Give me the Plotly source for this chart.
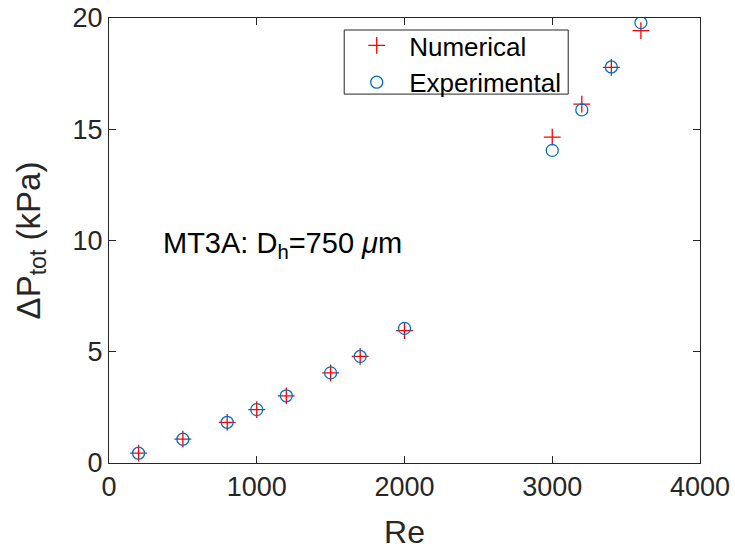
import plotly.graph_objects as go

re_num = [200, 500, 800, 1000, 1200, 1500, 1700, 2000, 3000, 3200, 3400, 3600]
dp_num = [0.44, 1.07, 1.83, 2.40, 3.02, 4.05, 4.79, 5.95, 14.65, 16.13, 17.78, 19.43]
re_exp = [200, 500, 800, 1000, 1200, 1500, 1700, 2000, 3000, 3200, 3400, 3600]
dp_exp = [0.44, 1.07, 1.83, 2.40, 3.02, 4.05, 4.79, 6.05, 14.05, 15.87, 17.80, 19.79]

FONT = "Liberation Sans, Arial, Helvetica, sans-serif"
AX = "#262626"

fig = go.Figure()
fig.add_trace(go.Scatter(
    x=re_num, y=dp_num, mode="markers", name="Numerical",
    marker=dict(symbol="cross-thin", size=12, color="#ff0000",
                line=dict(color="#ff0000", width=1.3)),
))
fig.add_trace(go.Scatter(
    x=re_exp, y=dp_exp, mode="markers", name="Experimental",
    marker=dict(symbol="circle-open", size=12, color="#0072BD",
                line=dict(color="#0072BD", width=1.3)),
))

axis_common = dict(
    showgrid=False, zeroline=False, showline=True, linecolor=AX, linewidth=1,
    mirror="ticks", ticks="inside", ticklen=7, tickcolor=AX, tickwidth=1,
    tickfont=dict(family=FONT, size=27, color=AX), automargin=False,
)
fig.update_xaxes(range=[0, 4000], tickvals=[0, 1000, 2000, 3000, 4000],
                 title=dict(text="Re", font=dict(family=FONT, size=32, color=AX), standoff=19),
                 **axis_common)
fig.update_yaxes(range=[0, 20], tickvals=[0, 5, 10, 15, 20],
                 title=dict(text="ΔP<sub>tot</sub> (kPa)", font=dict(family=FONT, size=33, color=AX), standoff=22),
                 **axis_common)

fig.add_annotation(
    x=352, y=9.8, xref="x", yref="y", xanchor="left", yanchor="middle",
    text="MT3A: D<sub>h</sub>=750 <i>μ</i>m", showarrow=False,
    font=dict(family=FONT, size=29, color="#000000"),
)

# legend frame (MATLAB-style tight box)
fig.add_shape(type="rect", xref="paper", yref="paper",
              x0=0.398, x1=0.777, y0=0.829, y1=0.973,
              line=dict(color=AX, width=1), fillcolor="rgba(0,0,0,0)", layer="above")

fig.update_layout(
    width=735, height=552,
    margin=dict(l=109, r=35, t=18, b=89),
    paper_bgcolor="white", plot_bgcolor="white",
    font=dict(family=FONT, color="#000000"),
    legend=dict(
        x=0.398, y=0.991, xanchor="left", yanchor="top",
        borderwidth=0, bgcolor="rgba(0,0,0,0)",
        font=dict(family=FONT, size=26, color="#000000"),
        itemwidth=55, tracegroupgap=0,
    ),
    showlegend=True,
)

fig.write_html("out.html")
